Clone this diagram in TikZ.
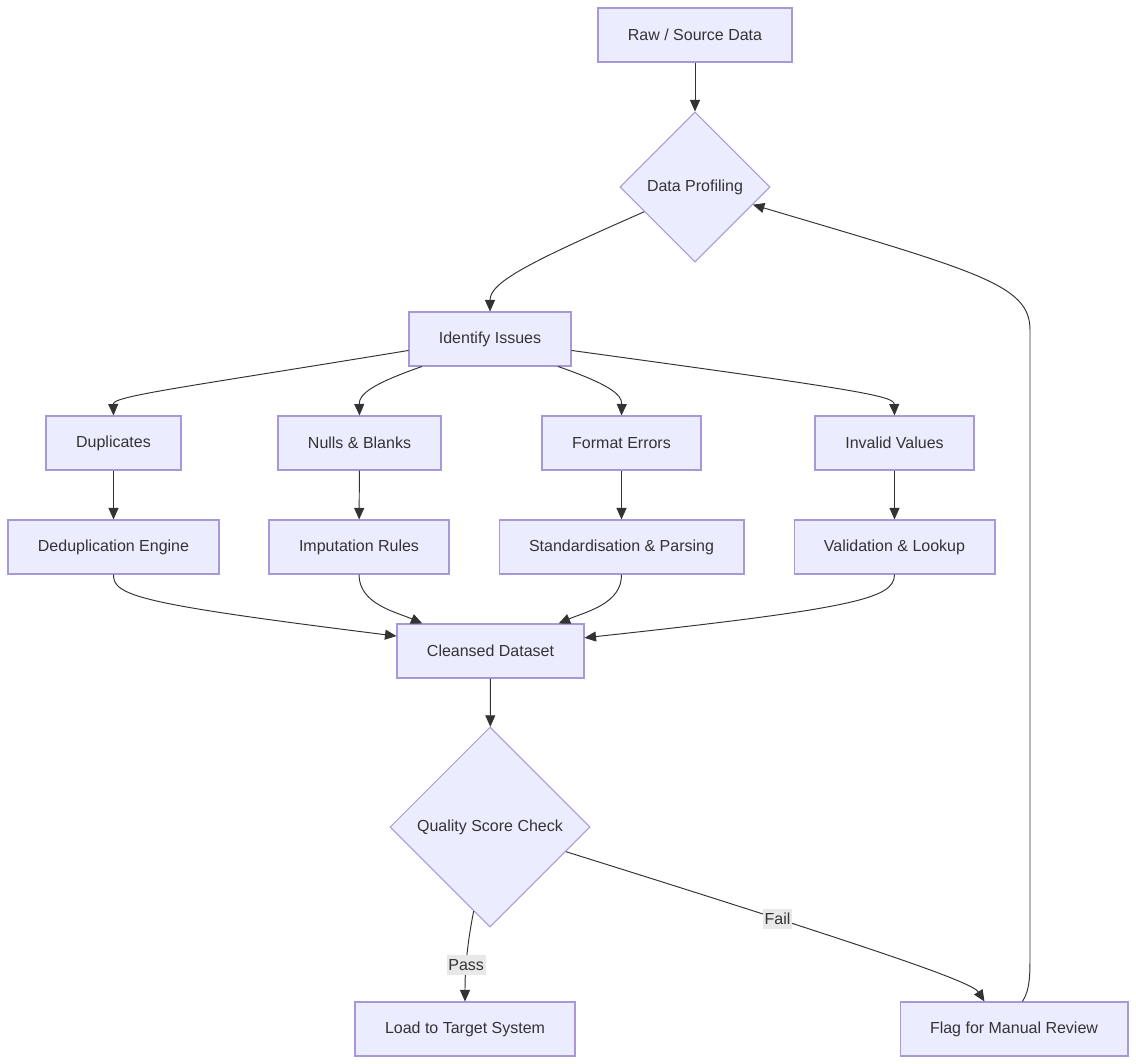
\documentclass[tikz,border=0pt]{standalone}
\usepackage{fontspec}
\setmainfont{Liberation Sans}
\usepackage{tikz}
\usetikzlibrary{shapes,arrows.meta,positioning,shapes.geometric}
\usepackage{xcolor}

\definecolor{boxfill}{HTML}{ECECFF}
\definecolor{boxline}{HTML}{A898D8}
\definecolor{ink}{HTML}{333333}
\definecolor{tagfill}{HTML}{E8E8E8}

\begin{document}
\begin{tikzpicture}[
    x=0.02cm, y=-0.02cm,
    stage/.style={rectangle, draw=boxline, fill=boxfill, line width=0.6pt, minimum height=1.08cm, text=ink, font=\fontsize{9.1}{11}\selectfont},
    check/.style={diamond, draw=boxline, fill=boxfill, line width=0.6pt, aspect=1, inner sep=0pt, text=ink, font=\fontsize{9.1}{11}\selectfont},
    arrow/.style={->, >={Stealth[length=2.3mm, width=2mm, inset=0pt]}, draw=ink, fill=none, line width=0.55pt},
    tag/.style={fill=tagfill, text=ink, inner xsep=1pt, inner ysep=2.5pt, font=\fontsize{9.1}{11}\selectfont}
]
\useasboundingbox (0,0) rectangle (1136,1064);

% Source and profiling
\node[stage, minimum width=3.88cm] (raw) at (695,35) {Raw / Source Data};
\node[check, minimum width=3cm, minimum height=3cm] (prof) at (695,187) {Data Profiling};
\node[stage, minimum width=3.24cm] (issues) at (490,339) {Identify Issues};

% Issue types
\node[stage, minimum width=2.70cm] (dup) at (113.5,443) {Duplicates};
\node[stage, minimum width=3.26cm] (nulls) at (359.5,443) {Nulls \& Blanks};
\node[stage, minimum width=3.18cm] (fmt) at (621.5,443) {Format Errors};
\node[stage, minimum width=3.18cm] (inval) at (894.5,443) {Invalid Values};

% Fixes
\node[stage, minimum width=4.22cm] (dedup) at (113.5,547) {Deduplication Engine};
\node[stage, minimum width=3.60cm] (imput) at (359,547) {Imputation Rules};
\node[stage, minimum width=4.90cm] (std) at (621.5,547) {Standardisation \& Parsing};
\node[stage, minimum width=4.02cm] (valid) at (894.5,547) {Validation \& Lookup};

% Output
\node[stage, minimum width=3.74cm] (clean) at (490.5,651) {Cleansed Dataset};
\node[check, minimum width=4cm, minimum height=4cm] (qual) at (490,827) {Quality Score Check};
\node[stage, minimum width=4.40cm] (load) at (465,1029) {Load to Target System};
\node[stage, minimum width=4.56cm] (flag) at (1014,1029) {Flag for Manual Review};

% Connectors
\draw[arrow] (raw) -- (prof);
\draw[arrow] (prof.-154) .. controls (530,262) and (490,282) .. (issues.north);
\draw[arrow] (issues.188) .. controls (180,388) and (113,396) .. (dup.north);
\draw[arrow] (issues.-158) .. controls (372,384) and (359,394) .. (nulls.north);
\draw[arrow] (issues.-22) .. controls (608,384) and (622,394) .. (fmt.north);
\draw[arrow] (issues.-8) .. controls (860,390) and (894,396) .. (inval.north);
\draw[arrow] (dup) -- (dedup);
\draw[arrow] (nulls) -- (imput);
\draw[arrow] (fmt) -- (std);
\draw[arrow] (inval) -- (valid);
\draw[arrow] (dedup.south) .. controls (113,596) and (140,604) .. (clean.171);
\draw[arrow] (imput.south) .. controls (359,604) and (396,612) .. (clean.158);
\draw[arrow] (std.south) .. controls (622,604) and (585,612) .. (clean.22);
\draw[arrow] (valid.south) .. controls (894,598) and (860,608) .. (clean.8);
\draw[arrow] (clean) -- (qual);
\draw[arrow] (qual.-101) .. controls (466,950) and (465,975) .. node[tag, pos=0.55] {Pass} (load.north);
\draw[arrow] (qual.-18) .. controls (880,950) and (972,982) .. node[tag, pos=0.275] {Fail} (flag.137);
\draw[arrow] (flag.73) .. controls (1030,990) and (1030,975) .. (1030,955) -- (1030,330)
    .. controls (1030,285) and (980,272) .. (prof.-17);

\end{tikzpicture}
\end{document}
